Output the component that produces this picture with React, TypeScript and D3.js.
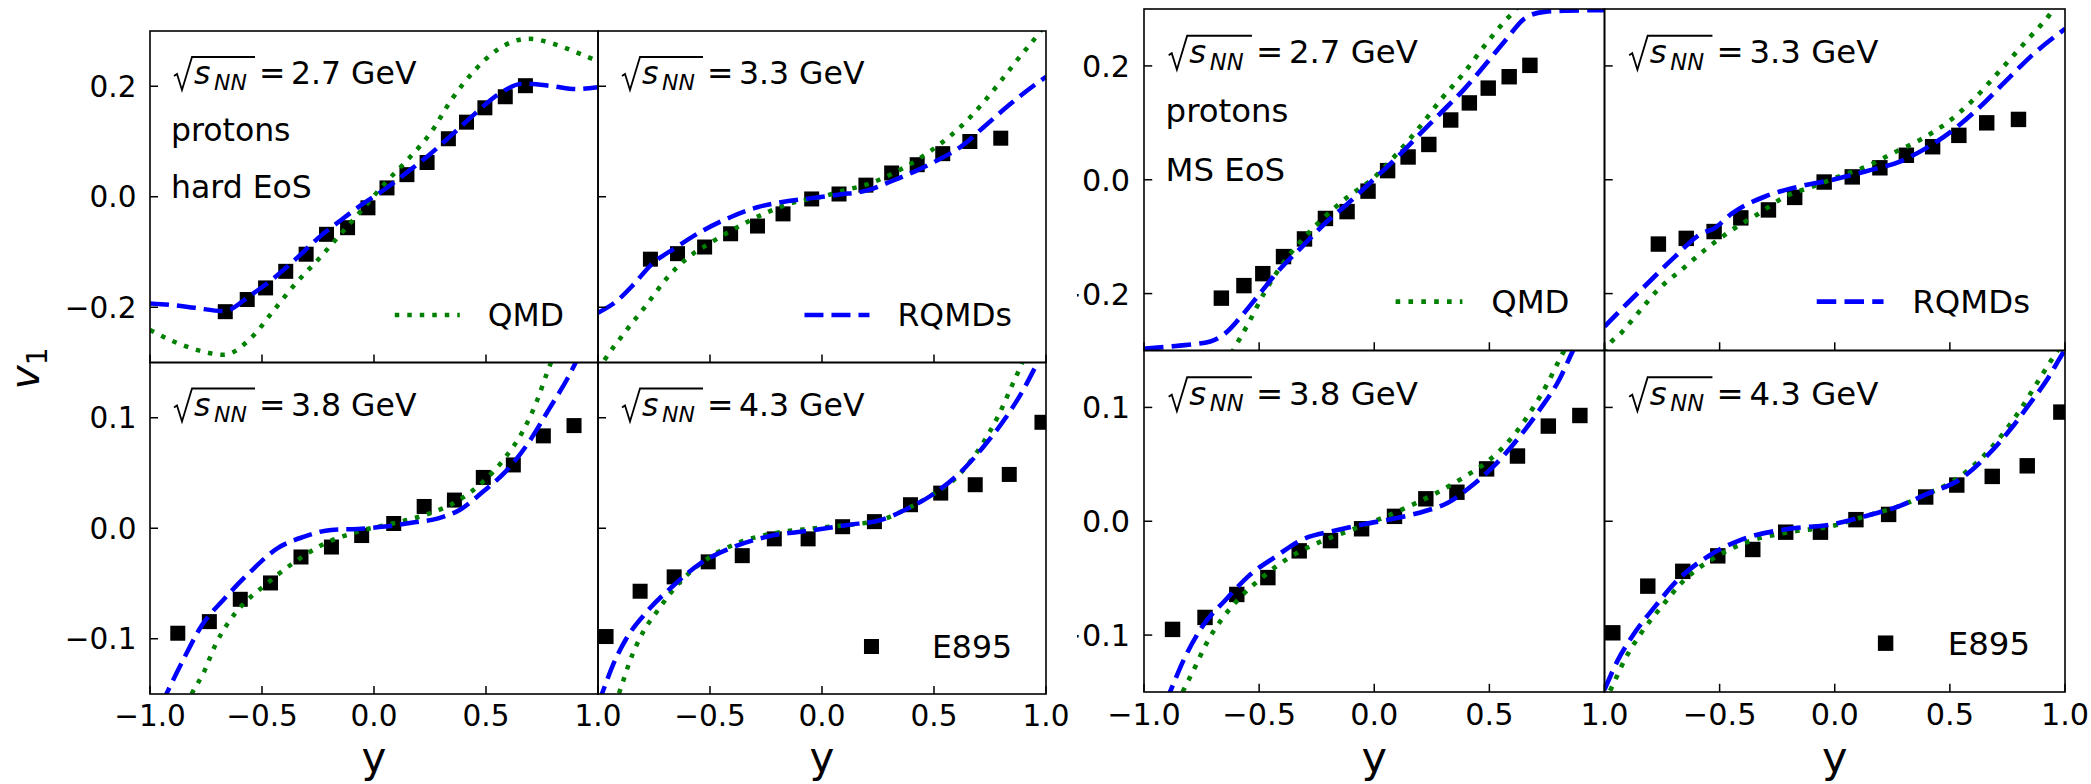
import React from 'react';
import * as d3 from 'd3';

type Pt = [number, number];

const energies = ['2.7', '3.3', '3.8', '4.3'];
const eosNames = ['hard EoS', 'MS EoS'];
const seriesNames = ['QMD', 'RQMDs', 'E895'];

const xTicks = [-1, -0.5, 0, 0.5, 1];
const xTickLabelsLeft = ['\u22121.0', '\u22120.5', '0.0', '0.5', '1.0'];
const xTickLabelsRight = ['', '\u22120.5', '0.0', '0.5', '1.0'];
const yTicksTop = [-0.2, 0, 0.2];
const yTickLabelsTop = ['\u22120.2', '0.0', '0.2'];
const yTicksBottom = [-0.1, 0, 0.1];
const yTickLabelsBottom = ['\u22120.1', '0.0', '0.1'];
const yDomainTop: [number, number] = [-0.3, 0.3];
const yDomainBottom: [number, number] = [-0.15, 0.15];

// E895 protons (same points in both figures)
const e895_27: Pt[] = [
  [-0.664, -0.208], [-0.566, -0.186], [-0.484, -0.165], [-0.394, -0.135], [-0.303, -0.104],
  [-0.212, -0.068], [-0.118, -0.056], [-0.027, -0.02], [0.058, 0.016], [0.147, 0.04],
  [0.237, 0.062], [0.332, 0.105], [0.413, 0.135], [0.495, 0.161], [0.586, 0.181], [0.676, 0.201],
];
const e895_33: Pt[] = [
  [-0.766, -0.113], [-0.645, -0.103], [-0.524, -0.091], [-0.408, -0.067], [-0.288, -0.053],
  [-0.174, -0.031], [-0.046, -0.004], [0.076, 0.005], [0.196, 0.021], [0.311, 0.043],
  [0.425, 0.058], [0.539, 0.078], [0.66, 0.1], [0.798, 0.106],
];
const e895_38: Pt[] = [
  [-0.876, -0.095], [-0.735, -0.0845], [-0.597, -0.0643], [-0.462, -0.0495], [-0.326, -0.026],
  [-0.19, -0.017], [-0.055, -0.0066], [0.088, 0.0043], [0.224, 0.0197], [0.359, 0.0255],
  [0.488, 0.046], [0.622, 0.0573], [0.756, 0.0836], [0.893, 0.0929],
];
const e895_43: Pt[] = [
  [-0.964, -0.098], [-0.812, -0.057], [-0.66, -0.044], [-0.508, -0.0304], [-0.356, -0.0248],
  [-0.213, -0.0096], [-0.062, -0.0096], [0.092, 0.0014], [0.234, 0.006], [0.395, 0.0213],
  [0.53, 0.0318], [0.684, 0.0394], [0.836, 0.0487], [0.982, 0.0959],
];

// QMD, hard EoS
const qmdHard27: Pt[] = [
  [-1.0, -0.241], [-0.9, -0.261], [-0.8, -0.276], [-0.67, -0.286], [-0.55, -0.256], [-0.45, -0.207],
  [-0.35, -0.157], [-0.25, -0.114], [-0.15, -0.068], [-0.05, -0.022], [0.05, 0.025], [0.15, 0.067],
  [0.25, 0.114], [0.35, 0.178], [0.45, 0.229], [0.55, 0.266], [0.69, 0.286], [0.8, 0.277],
  [0.9, 0.262], [1.0, 0.245],
];
const qmdHard33: Pt[] = [
  [-1.0, -0.315], [-0.97, -0.295], [-0.889, -0.25], [-0.784, -0.196], [-0.694, -0.148], [-0.604, -0.112],
  [-0.484, -0.08], [-0.364, -0.052], [-0.244, -0.028], [-0.124, -0.01], [0, 0], [0.085, 0.01],
  [0.205, 0.023], [0.325, 0.044], [0.43, 0.068], [0.535, 0.098], [0.625, 0.129], [0.715, 0.168],
  [0.805, 0.213], [0.88, 0.252], [0.97, 0.297], [1.0, 0.315],
];
const qmdHard38: Pt[] = [
  [-0.84, -0.16], [-0.809, -0.148], [-0.759, -0.13], [-0.709, -0.106], [-0.649, -0.085], [-0.59, -0.07],
  [-0.49, -0.052], [-0.371, -0.033], [-0.231, -0.015], [-0.072, -0.003], [0.088, 0.0045], [0.227, 0.012],
  [0.367, 0.024], [0.486, 0.042], [0.586, 0.064], [0.665, 0.088], [0.725, 0.114], [0.775, 0.142],
  [0.81, 0.16],
];
const qmdHard43: Pt[] = [
  [-0.925, -0.16], [-0.897, -0.144], [-0.859, -0.121], [-0.799, -0.094], [-0.739, -0.076], [-0.649, -0.052],
  [-0.529, -0.03], [-0.379, -0.0136], [-0.214, -0.0045], [-0.034, 0], [0.115, 0.003], [0.265, 0.0076],
  [0.37, 0.0167], [0.49, 0.03], [0.61, 0.048], [0.715, 0.076], [0.79, 0.103], [0.85, 0.13],
  [0.888, 0.147], [0.915, 0.16],
];

// RQMDs, hard EoS
const rqmdHard27: Pt[] = [
  [-1.0, -0.193], [-0.9, -0.196], [-0.8, -0.201], [-0.67, -0.207], [-0.55, -0.178], [-0.45, -0.148],
  [-0.35, -0.113], [-0.25, -0.075], [-0.15, -0.043], [-0.05, -0.013], [0.05, 0.014], [0.15, 0.045],
  [0.25, 0.077], [0.35, 0.113], [0.45, 0.15], [0.55, 0.184], [0.67, 0.205], [0.8, 0.2],
  [0.9, 0.195], [1.0, 0.198],
];
const rqmdHard33: Pt[] = [
  [-1.0, -0.21], [-0.92, -0.19], [-0.844, -0.16], [-0.765, -0.124], [-0.649, -0.091], [-0.544, -0.064],
  [-0.409, -0.037], [-0.289, -0.019], [-0.184, -0.01], [-0.034, -0.002], [0.078, 0.004], [0.198, 0.011],
  [0.31, 0.028], [0.415, 0.046], [0.52, 0.067], [0.625, 0.092], [0.73, 0.129], [0.835, 0.166],
  [0.925, 0.195], [1.0, 0.217],
];
const rqmdHard38: Pt[] = [
  [-0.95, -0.16], [-0.922, -0.148], [-0.849, -0.118], [-0.769, -0.088], [-0.669, -0.064], [-0.55, -0.039],
  [-0.43, -0.018], [-0.311, -0.0076], [-0.191, -0.0015], [-0.072, -0.0006], [0.048, 0.0015], [0.167, 0.005],
  [0.287, 0.009], [0.386, 0.017], [0.486, 0.033], [0.586, 0.051], [0.685, 0.076], [0.785, 0.109],
  [0.865, 0.136], [0.92, 0.158],
];
const rqmdHard43: Pt[] = [
  [-1.0, -0.159], [-0.979, -0.148], [-0.934, -0.124], [-0.874, -0.1], [-0.784, -0.076], [-0.664, -0.052],
  [-0.544, -0.032], [-0.409, -0.018], [-0.244, -0.0076], [-0.034, -0.0015], [0.115, 0.003], [0.265, 0.0076],
  [0.385, 0.018], [0.505, 0.032], [0.625, 0.052], [0.73, 0.076], [0.82, 0.1], [0.895, 0.124],
  [0.963, 0.15], [0.99, 0.16],
];

// QMD, MS EoS
const qmdMS27: Pt[] = [
  [-0.62, -0.305], [-0.595, -0.287], [-0.545, -0.251], [-0.478, -0.199], [-0.395, -0.146], [-0.312, -0.105],
  [-0.212, -0.064], [-0.112, -0.029], [-0.012, 0], [0.088, 0.041], [0.188, 0.088], [0.288, 0.14],
  [0.388, 0.187], [0.488, 0.24], [0.572, 0.281], [0.613, 0.299], [0.63, 0.31],
];
const qmdMS33: Pt[] = [
  [-1.0, -0.305], [-0.985, -0.293], [-0.927, -0.269], [-0.854, -0.234], [-0.767, -0.193], [-0.665, -0.158],
  [-0.563, -0.123], [-0.446, -0.088], [-0.329, -0.059], [-0.213, -0.029], [-0.096, -0.012], [0.02, 0.006],
  [0.137, 0.023], [0.254, 0.047], [0.37, 0.07], [0.487, 0.1], [0.603, 0.141], [0.72, 0.193],
  [0.837, 0.246], [0.939, 0.293], [0.96, 0.305],
];
const qmdMS38: Pt[] = [
  [-0.857, -0.16], [-0.82, -0.145], [-0.778, -0.128], [-0.728, -0.107], [-0.662, -0.086], [-0.578, -0.066],
  [-0.478, -0.048], [-0.362, -0.031], [-0.245, -0.019], [-0.112, -0.0085], [0.022, 0.0018], [0.155, 0.0135],
  [0.272, 0.025], [0.388, 0.0385], [0.505, 0.0547], [0.605, 0.0753], [0.688, 0.099], [0.755, 0.122],
  [0.797, 0.139], [0.84, 0.156],
];
const qmdMS43: Pt[] = [
  [-1.0, -0.159], [-0.964, -0.144], [-0.913, -0.122], [-0.84, -0.098], [-0.752, -0.075], [-0.65, -0.051],
  [-0.534, -0.0335], [-0.388, -0.0188], [-0.213, -0.01], [-0.009, -0.0041], [0.137, 0.0047], [0.283, 0.0135],
  [0.399, 0.0238], [0.516, 0.0355], [0.633, 0.0546], [0.735, 0.078], [0.808, 0.0987], [0.88, 0.122],
  [0.939, 0.141], [1.0, 0.16],
];

// RQMDs, MS EoS
const rqmdMS27: Pt[] = [
  [-1.0, -0.297], [-0.862, -0.292], [-0.712, -0.284], [-0.645, -0.269], [-0.578, -0.24], [-0.495, -0.199],
  [-0.412, -0.158], [-0.312, -0.117], [-0.212, -0.076], [-0.112, -0.041], [-0.012, -0.003], [0.088, 0.035],
  [0.188, 0.076], [0.288, 0.117], [0.388, 0.158], [0.488, 0.205], [0.572, 0.246], [0.655, 0.284],
  [0.738, 0.295], [0.838, 0.297], [1.0, 0.298],
];
const rqmdMS33: Pt[] = [
  [-1.0, -0.258], [-0.913, -0.222], [-0.81, -0.181], [-0.694, -0.135], [-0.577, -0.094], [-0.526, -0.086],
  [-0.446, -0.059], [-0.3, -0.029], [-0.155, -0.012], [-0.009, 0], [0.137, 0.015], [0.283, 0.032],
  [0.399, 0.056], [0.516, 0.088], [0.633, 0.129], [0.749, 0.176], [0.866, 0.222], [1.0, 0.265],
];
const rqmdMS38: Pt[] = [
  [-0.908, -0.16], [-0.887, -0.15], [-0.828, -0.122], [-0.745, -0.092], [-0.645, -0.069], [-0.545, -0.048],
  [-0.428, -0.031], [-0.312, -0.016], [-0.178, -0.0085], [-0.045, -0.0026], [0.088, 0.0024], [0.222, 0.009],
  [0.322, 0.0165], [0.422, 0.031], [0.522, 0.049], [0.622, 0.072], [0.722, 0.099], [0.805, 0.125],
  [0.847, 0.143], [0.875, 0.155],
];
const rqmdMS43: Pt[] = [
  [-1.0, -0.148], [-0.942, -0.122], [-0.869, -0.098], [-0.781, -0.075], [-0.679, -0.051], [-0.548, -0.0305],
  [-0.402, -0.0159], [-0.213, -0.007], [-0.009, -0.0026], [0.137, 0.0047], [0.283, 0.0135], [0.399, 0.0238],
  [0.545, 0.037], [0.662, 0.0576], [0.764, 0.081], [0.851, 0.1045], [0.924, 0.125], [0.968, 0.14],
  [1.0, 0.151],
];

const e895All = [e895_27, e895_33, e895_38, e895_43];

const FONT = '"DejaVu Sans", "Liberation Sans", sans-serif';
const GREEN = '#008000';
const BLUE = '#0000ff';

const figures = [
  {
    key: 'hard', eos: eosNames[0], xs: [150, 598, 1046], ys: [31, 362.5, 694], s: 1,
    qmd: [qmdHard27, qmdHard33, qmdHard38, qmdHard43],
    rqmd: [rqmdHard27, rqmdHard33, rqmdHard38, rqmdHard43],
    ylabel: true, clipX: 0,
  },
  {
    key: 'ms', eos: eosNames[1], xs: [1144, 1604.5, 2065], ys: [9, 350.5, 692], s: 1.028,
    qmd: [qmdMS27, qmdMS33, qmdMS38, qmdMS43],
    rqmd: [rqmdMS27, rqmdMS33, rqmdMS38, rqmdMS43],
    ylabel: false, clipX: 1077,
  },
];

let measureCtx: CanvasRenderingContext2D | null = null;
function textWidth(str: string, size: number) {
  if (!measureCtx && typeof document !== 'undefined') {
    measureCtx = document.createElement('canvas').getContext('2d');
  }
  if (!measureCtx) return str.length * size * 0.62;
  measureCtx.font = `${size}px "DejaVu Sans"`;
  return measureCtx.measureText(str).width;
}

function SqrtLabel({ x, base, s, energy }) {
  const fs = 31.5 * s;
  // radical sign with overline over s_NN
  const rad = `M${x},${base - 8 * s} L${x + 3 * s},${base - 10 * s} L${x + 8 * s},${base + 6 * s} L${x + 18 * s},${base - 27 * s} H${x + 81 * s}`;
  return (
    <g fontFamily={FONT} fill="#000">
      <path d={rad} fill="none" stroke="#000" strokeWidth={1.8 * s} />
      <text x={x + 20 * s} y={base} fontSize={fs} fontStyle="italic">s</text>
      <text x={x + 40 * s} y={base + 6 * s} fontSize={22 * s} fontStyle="italic">NN</text>
      <text x={x + 85 * s} y={base} fontSize={fs}>=</text>
      <text x={x + 117 * s} y={base} fontSize={fs}>{energy} GeV</text>
    </g>
  );
}

function Panel({ fig, idx }) {
  const row = Math.floor(idx / 2);
  const col = idx % 2;
  const s = fig.s;
  const left = fig.xs[col], right = fig.xs[col + 1];
  const top = fig.ys[row], bottom = fig.ys[row + 1];

  const x = d3.scaleLinear().domain([-1, 1]).range([left, right]);
  const y = d3.scaleLinear().domain(row === 0 ? yDomainTop : yDomainBottom).range([bottom, top]);
  const line = d3.line<Pt>().x(d => x(d[0])).y(d => y(d[1])).curve(d3.curveMonotoneX);

  const yTicks = row === 0 ? yTicksTop : yTicksBottom;
  const yLabels = row === 0 ? yTickLabelsTop : yTickLabelsBottom;
  const xLabels = col === 0 ? xTickLabelsLeft : xTickLabelsRight;
  const clipId = `clip-${fig.key}-${idx}`;
  const ms = 15 * s;
  const tickLen = 8 * s;
  const tickFs = 29.5 * s;
  const fs = 31.5 * s;

  // legend (lower right)
  const legendKind = idx === 0 ? 0 : idx === 1 ? 1 : idx === 3 ? 2 : -1;
  let legend = null;
  if (legendKind >= 0) {
    const label = seriesNames[legendKind];
    const cy = bottom - 47.5 * s;
    const tEnd = right - 34 * s;
    const tStart = tEnd - textWidth(label, fs);
    const h0 = tStart - 93 * s, h1 = tStart - 28 * s;
    legend = (
      <g>
        {legendKind === 0 && (
          <line x1={h0} x2={h1} y1={cy} y2={cy} stroke={GREEN} strokeWidth={4.5 * s} strokeDasharray={`${4.5 * s} ${8 * s}`} />
        )}
        {legendKind === 1 && (
          <line x1={h0} x2={h1} y1={cy} y2={cy} stroke={BLUE} strokeWidth={4.5 * s} strokeDasharray={`${19 * s} ${8 * s}`} />
        )}
        {legendKind === 2 && (
          <rect x={(h0 + h1) / 2 - ms / 2} y={cy - ms / 2} width={ms} height={ms} fill="#000" />
        )}
        <text x={tStart} y={cy + 11.3 * s} fontSize={fs} fontFamily={FONT}>{label}</text>
      </g>
    );
  }

  const annX = left + 24 * s;
  const annBase = top + 53 * s;

  return (
    <g>
      <defs>
        <clipPath id={clipId}>
          <rect x={left} y={top} width={right - left} height={bottom - top} />
        </clipPath>
      </defs>
      <g clipPath={`url(#${clipId})`}>
        {e895All[idx].map((d, i) => (
          <rect key={i} x={x(d[0]) - ms / 2} y={y(d[1]) - ms / 2} width={ms} height={ms} fill="#000" />
        ))}
        <path d={line(fig.qmd[idx]) || ''} fill="none" stroke={GREEN} strokeWidth={4.5 * s}
          strokeDasharray={`${4.5 * s} ${8 * s}`} />
        <path d={line(fig.rqmd[idx]) || ''} fill="none" stroke={BLUE} strokeWidth={4.5 * s}
          strokeDasharray={`${19 * s} ${8 * s}`} />
      </g>

      <rect x={left} y={top} width={right - left} height={bottom - top} fill="none" stroke="#000" strokeWidth={1.6} />

      {xTicks.map(t => (
        <line key={'xt' + t} x1={x(t)} x2={x(t)} y1={bottom} y2={bottom - tickLen} stroke="#000" strokeWidth={1.5} />
      ))}
      {yTicks.map(t => (
        <line key={'yt' + t} x1={left} x2={left + tickLen} y1={y(t)} y2={y(t)} stroke="#000" strokeWidth={1.5} />
      ))}

      {row === 1 && xTicks.map((t, i) => (
        <text key={'xl' + t} x={x(t)} y={bottom + 32 * s} fontSize={tickFs} fontFamily={FONT} textAnchor="middle">
          {xLabels[i]}
        </text>
      ))}
      {col === 0 && yTicks.map((t, i) => (
        <text key={'yl' + t} x={left - 13.5 * s} y={y(t)} dy="0.36em" fontSize={tickFs} fontFamily={FONT} textAnchor="end">
          {yLabels[i]}
        </text>
      ))}

      {row === 1 && (
        <text x={(left + right) / 2} y={bottom + 77.5 * s} fontSize={42 * s} fontFamily={FONT} textAnchor="middle">y</text>
      )}

      <SqrtLabel x={annX} base={annBase} s={s} energy={energies[idx]} />
      {idx === 0 && (
        <g fontFamily={FONT} fontSize={fs}>
          <text x={annX - 3 * s} y={annBase + 57 * s}>protons</text>
          <text x={annX - 3 * s} y={annBase + 114 * s}>{fig.eos}</text>
        </g>
      )}

      {legend}
    </g>
  );
}

function Figure({ fig }) {
  const clipId = `figclip-${fig.key}`;
  const midY = (fig.ys[0] + fig.ys[2]) / 2;
  return (
    <g>
      <defs>
        <clipPath id={clipId}>
          <rect x={fig.clipX} y={0} width={2091 - fig.clipX} height={784} />
        </clipPath>
      </defs>
      <g clipPath={`url(#${clipId})`}>
        {[0, 1, 2, 3].map(i => <Panel key={i} fig={fig} idx={i} />)}
        {fig.ylabel && (
          <text transform={`translate(39,${midY + 6}) rotate(-90)`} textAnchor="middle" fontFamily={FONT} fontSize={41 * fig.s}>
            <tspan fontStyle="italic">v</tspan>
            <tspan fontSize={28 * fig.s} dy={8 * fig.s}>1</tspan>
          </text>
        )}
      </g>
    </g>
  );
}

export default function App() {
  return (
    <svg width={2091} height={784} viewBox="0 0 2091 784"
      style={{ position: 'absolute', left: 0, top: 0, display: 'block', background: '#fff' }}>
      <rect width={2091} height={784} fill="#fff" />
      {figures.map(f => <Figure key={f.key} fig={f} />)}
    </svg>
  );
}
